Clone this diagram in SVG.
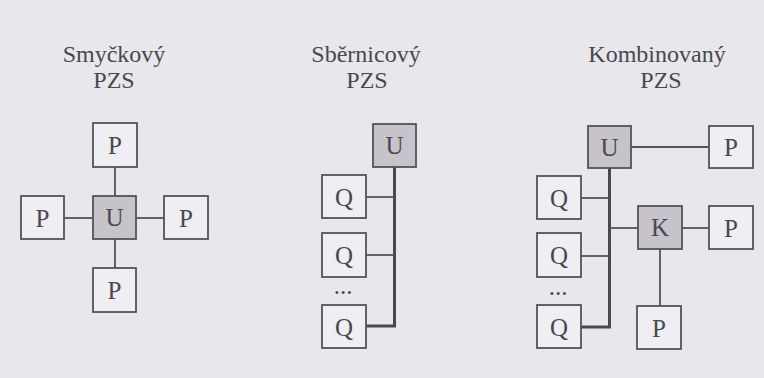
<svg xmlns="http://www.w3.org/2000/svg" width="764" height="378" viewBox="0 0 764 378">
<style>
.bg{fill:#e8e7ec}
.box{fill:#efeef2;stroke:#55535a;stroke-width:1.8}
.hub{fill:#c6c4ca;stroke:#55535a;stroke-width:1.8}
.lbl{font-size:25px;fill:#4a484e;text-anchor:middle}
.title{font-size:24px;fill:#4a484e;text-anchor:middle}
.ln{stroke:#55535a;stroke-width:1.8;fill:none}
.bus{stroke:#4a484e;stroke-width:3;fill:none}
</style>
<rect class="bg" x="0" y="0" width="764" height="378"/>
<g id="titles" font-family="'Liberation Serif', 'Times New Roman', serif">
<text class="title" x="114" y="62">Smyčkový</text>
<text class="title" x="114" y="88">PZS</text>
<text class="title" x="366" y="62">Sběrnicový</text>
<text class="title" x="367" y="88">PZS</text>
<text class="title" x="657" y="62">Kombinovaný</text>
<text class="title" x="661" y="88">PZS</text>
</g>
<g id="connectors">
<line class="ln" x1="115" y1="167" x2="115" y2="196"/>
<line class="ln" x1="64" y1="218" x2="93" y2="218"/>
<line class="ln" x1="136" y1="218" x2="164" y2="218"/>
<line class="ln" x1="115" y1="239" x2="115" y2="268"/>
<polyline class="bus" points="394.5,167 394.5,326 366,326"/>
<line class="ln" x1="366" y1="197" x2="394" y2="197"/>
<line class="ln" x1="366" y1="255" x2="394" y2="255"/>
<line class="ln" x1="631" y1="147" x2="709" y2="147"/>
<polyline class="bus" points="609.5,168 609.5,327 581,327"/>
<line class="ln" x1="581" y1="198" x2="609" y2="198"/>
<line class="ln" x1="581" y1="256" x2="609" y2="256"/>
<line class="ln" x1="609" y1="228" x2="638" y2="228"/>
<line class="ln" x1="682" y1="228" x2="709" y2="228"/>
<line class="ln" x1="660" y1="249" x2="660" y2="306"/>
</g>
<g id="nodes" font-family="'Liberation Serif', 'Times New Roman', serif">
<g id="s-p-top"><rect class="box" x="93" y="123" width="44" height="44"/><text class="lbl" x="115" y="154">P</text></g>
<g id="s-u"><rect class="hub" x="93" y="196" width="43" height="43"/><text class="lbl" x="114.5" y="226">U</text></g>
<g id="s-p-left"><rect class="box" x="21" y="196" width="43" height="43"/><text class="lbl" x="42.5" y="227">P</text></g>
<g id="s-p-right"><rect class="box" x="164" y="196" width="44" height="43"/><text class="lbl" x="186" y="227">P</text></g>
<g id="s-p-bottom"><rect class="box" x="93" y="268" width="43" height="44"/><text class="lbl" x="114.5" y="299">P</text></g>
<g id="b-u"><rect class="hub" x="373" y="124" width="43" height="43"/><text class="lbl" x="394.5" y="154">U</text></g>
<g id="b-q1"><rect class="box" x="322" y="175" width="44" height="43"/><text class="lbl" x="344" y="206">Q</text></g>
<g id="b-q2"><rect class="box" x="322" y="233" width="44" height="44"/><text class="lbl" x="344" y="264">Q</text></g>
<g id="b-dots"><text class="lbl" x="343" y="294">...</text></g>
<g id="b-q3"><rect class="box" x="322" y="305" width="44" height="43"/><text class="lbl" x="344" y="336">Q</text></g>
<g id="k-u"><rect class="hub" x="588" y="126" width="43" height="42"/><text class="lbl" x="609.5" y="156">U</text></g>
<g id="k-p1"><rect class="box" x="709" y="126" width="44" height="42"/><text class="lbl" x="731" y="156">P</text></g>
<g id="k-q1"><rect class="box" x="537" y="176" width="44" height="43"/><text class="lbl" x="559" y="207">Q</text></g>
<g id="k-q2"><rect class="box" x="537" y="233" width="44" height="44"/><text class="lbl" x="559" y="264">Q</text></g>
<g id="k-dots"><text class="lbl" x="558" y="295">...</text></g>
<g id="k-q3"><rect class="box" x="537" y="305" width="44" height="43"/><text class="lbl" x="559" y="336">Q</text></g>
<g id="k-k"><rect class="hub" x="638" y="206" width="44" height="43"/><text class="lbl" x="660" y="236">K</text></g>
<g id="k-p2"><rect class="box" x="709" y="206" width="44" height="43"/><text class="lbl" x="731" y="237">P</text></g>
<g id="k-p3"><rect class="box" x="637" y="306" width="44" height="43"/><text class="lbl" x="659" y="337">P</text></g>
</g>
</svg>
